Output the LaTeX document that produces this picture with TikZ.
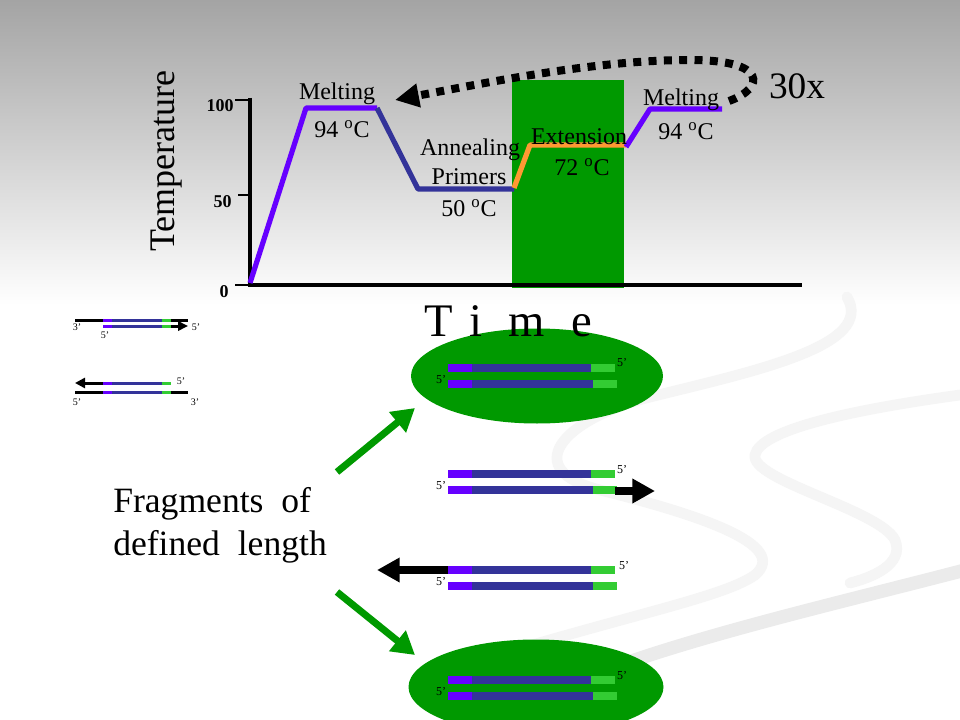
\documentclass[tikz,border=0pt]{standalone}
\usepackage{fontspec}
\setmainfont{Liberation Serif}
\usetikzlibrary{arrows.meta,shapes.geometric}
\definecolor{violetline}{RGB}{102,0,255}
\definecolor{navyline}{RGB}{51,51,153}
\definecolor{orangeline}{RGB}{255,153,51}
\definecolor{boxgreen}{RGB}{0,153,0}
\definecolor{primegreen}{RGB}{51,204,51}
\definecolor{bgtop}{RGB}{164,164,164}
\newcommand\pcrpair[1]{%
  \draw[strand,violetline] (448,#1) -- (472,#1);
  \draw[strand,navyline] (472,#1) -- (591,#1);
  \draw[strand,primegreen] (591,#1) -- (615,#1);
  \draw[strand,violetline] (448,{#1+16}) -- (472,{#1+16});
  \draw[strand,navyline] (472,{#1+16}) -- (593,{#1+16});
  \draw[strand,primegreen] (593,{#1+16}) -- (617,{#1+16});
}
\begin{document}
\begin{tikzpicture}[x=0.75pt,y=-0.75pt,
  strand/.style={line width=6pt},
  thinstrand/.style={line width=2.25pt},
  profile/.style={line width=3.9pt,line join=round},
  lbl/.style={font=\fontsize{18}{20}\selectfont,inner sep=0pt},
  ticklbl/.style={font=\fontsize{13.5}{15}\selectfont\bfseries,inner sep=0pt},
  tiny/.style={font=\fontsize{9}{10}\selectfont,inner sep=0pt},
  tinier/.style={font=\fontsize{7.5}{8}\selectfont,inner sep=0pt},
  bigtxt/.style={font=\fontsize{26.7}{30}\selectfont,inner sep=0pt},
  timetxt/.style={font=\fontsize{35}{40}\selectfont,inner sep=0pt,anchor=base},
  greenarrow/.style={line width=5.25pt,boxgreen,-{Triangle[length=17pt,width=19pt]}},
  blackhead/.style={-{Triangle[length=17pt,width=17.5pt]}},
  dotarrow/.style={line width=6pt,dash pattern=on 6pt off 5.5pt,-{Triangle[length=18pt,width=17pt]}},
  swoosh/.style={line width=8pt,line cap=round,gray!8}
]
\useasboundingbox (0,0) rectangle (960,720);
% background
\fill[white] (0,0) rectangle (960,720);
\shade[top color=bgtop,bottom color=white] (0,0) rectangle (960,305);
% decorative swooshes
\draw[swoosh] (847,297) .. controls (875,345) and (760,370) .. (650,397) .. controls (560,420) and (520,470) .. (600,490) .. controls (700,515) and (790,545) .. (755,575) .. controls (720,600) and (600,620) .. (420,680);
\draw[swoosh] (960,395) .. controls (850,410) and (760,430) .. (755,455) .. controls (750,480) and (880,510) .. (895,540) .. controls (905,565) and (870,578) .. (850,583);
\draw[swoosh,gray!16,line width=10pt] (965,570) .. controls (850,600) and (720,630) .. (620,665);
% extension box
\fill[boxgreen] (512,80) rectangle (624,288);
% axes
\draw[line width=3pt] (250,98) -- (250,285) -- (802,285);
\draw[line width=1pt] (235,100) -- (250,100);
\draw[line width=1pt] (238,195) -- (250,195);
\draw[line width=1pt] (235,285) -- (250,285);
\node[ticklbl,anchor=east] (t100) at (234,106) {100};
\node[ticklbl,anchor=east] (t50) at (232,202) {50};
\node[ticklbl,anchor=east] (t0) at (229,292) {0};
\node[font=\fontsize{27}{30}\selectfont,inner sep=0pt,rotate=90] (temp) at (167,161) {Temperature};
% temperature profile
\draw[profile,violetline] (250,283) -- (306,108) -- (377,108);
\draw[profile,navyline] (377,108) -- (418,189) -- (514,189);
\draw[profile,orangeline] (514,188) -- (530,145) -- (626,145);
\draw[profile,violetline] (626,147) -- (650,109) -- (722,109);
% labels
\node[lbl] (melt1) at (337,94) {Melting};
\node[lbl] (deg1) at (342,129) {94 \textsuperscript{o}C};
\node[lbl] (anneal) at (470,150) {Annealing};
\node[lbl] (primers) at (469,177) {Primers};
\node[lbl] (deg2) at (469,208) {50 \textsuperscript{o}C};
\node[lbl] (ext) at (579,137) {Extension};
\node[lbl] (deg3) at (582,167) {72 \textsuperscript{o}C};
\node[lbl] (melt2) at (681,100) {Melting};
\node[lbl] (deg4) at (686,131) {94 \textsuperscript{o}C};
\node[font=\fontsize{28}{30}\selectfont,inner sep=0pt] (cycles) at (797,86) {30x};
% cycle arrow
\coordinate (cycstart) at (729,101);
\coordinate (cycend) at (395,100);
\draw[dotarrow] (cycstart) .. controls (765,88) and (768,60) .. (690,60) .. controls (600,60) and (500,80) .. (cycend);
% left small diagram
\draw[thinstrand] (75,320) -- (103,320);
\draw[thinstrand,violetline] (103,320) -- (112,320);
\draw[thinstrand,navyline] (112,320) -- (162,320);
\draw[thinstrand,primegreen] (162,320) -- (171,320);
\draw[thinstrand] (171,320) -- (188,320);
\draw[thinstrand,violetline] (103,326) -- (112,326);
\draw[thinstrand,navyline] (112,326) -- (162,326);
\draw[thinstrand,primegreen] (162,326) -- (171,326);
\draw[thinstrand,-{Triangle[length=7.5pt,width=7pt]}] (171,326) -- (188,326);
\node[tinier] (l3a) at (77,327) {3’};
\node[tinier] (l5a) at (105,335) {5’};
\node[tinier] (l5b) at (196,327) {5’};
\draw[thinstrand,-{Triangle[length=7.5pt,width=7.5pt]}] (103,383) -- (75,383);
\draw[thinstrand,violetline] (103,383) -- (112,383);
\draw[thinstrand,navyline] (112,383) -- (162,383);
\draw[thinstrand,primegreen] (162,383) -- (171,383);
\draw[thinstrand] (75,392) -- (103,392);
\draw[thinstrand,violetline] (103,392) -- (112,392);
\draw[thinstrand,navyline] (112,392) -- (162,392);
\draw[thinstrand,primegreen] (162,392) -- (171,392);
\draw[thinstrand] (171,392) -- (188,392);
\node[tinier] (l5c) at (181,381) {5’};
\node[tinier] (l5d) at (77,402) {5’};
\node[tinier] (l3b) at (195,402) {3’};
% ellipses
\node[ellipse,fill=boxgreen,minimum width=189pt,minimum height=71.25pt,inner sep=0pt] (ell1) at (537,376) {};
\node[ellipse,fill=boxgreen,minimum width=191.25pt,minimum height=71.25pt,inner sep=0pt] (ell2) at (536,687) {};
% time label
\node[timetxt] (tT) at (439,336) {T};
\node[timetxt] (ti) at (476,336) {i};
\node[timetxt] (tm) at (527,336) {m};
\node[timetxt] (te) at (582,336) {e};
% strand pairs
\pcrpair{368}
\pcrpair{474}
\pcrpair{570}
\pcrpair{680}
\draw[strand,blackhead] (615,491) -- (655,491);
\draw[strand,blackhead] (448,570) -- (377,570);
\node[tiny] (p1r) at (622,363) {5’};
\node[tiny] (p1l) at (441,380) {5’};
\node[tiny] (p2r) at (622,470) {5’};
\node[tiny] (p2l) at (441,486) {5’};
\node[tiny] (p3r) at (624,566) {5’};
\node[tiny] (p3l) at (441,582) {5’};
\node[tiny] (p4r) at (622,676) {5’};
\node[tiny] (p4l) at (441,692) {5’};
% fragments text and arrows
\node[bigtxt,anchor=base west] (frag1) at (113,512) {Fragments\hspace{0.5em}of};
\node[bigtxt,anchor=base west] (frag2) at (113,555) {defined\hspace{0.5em}length};
\coordinate (ga1s) at (337,472);
\coordinate (ga2s) at (337,592);
\draw[greenarrow] (ga1s) -- (415,408);
\draw[greenarrow] (ga2s) -- (415,655);
\end{tikzpicture}
\end{document}
